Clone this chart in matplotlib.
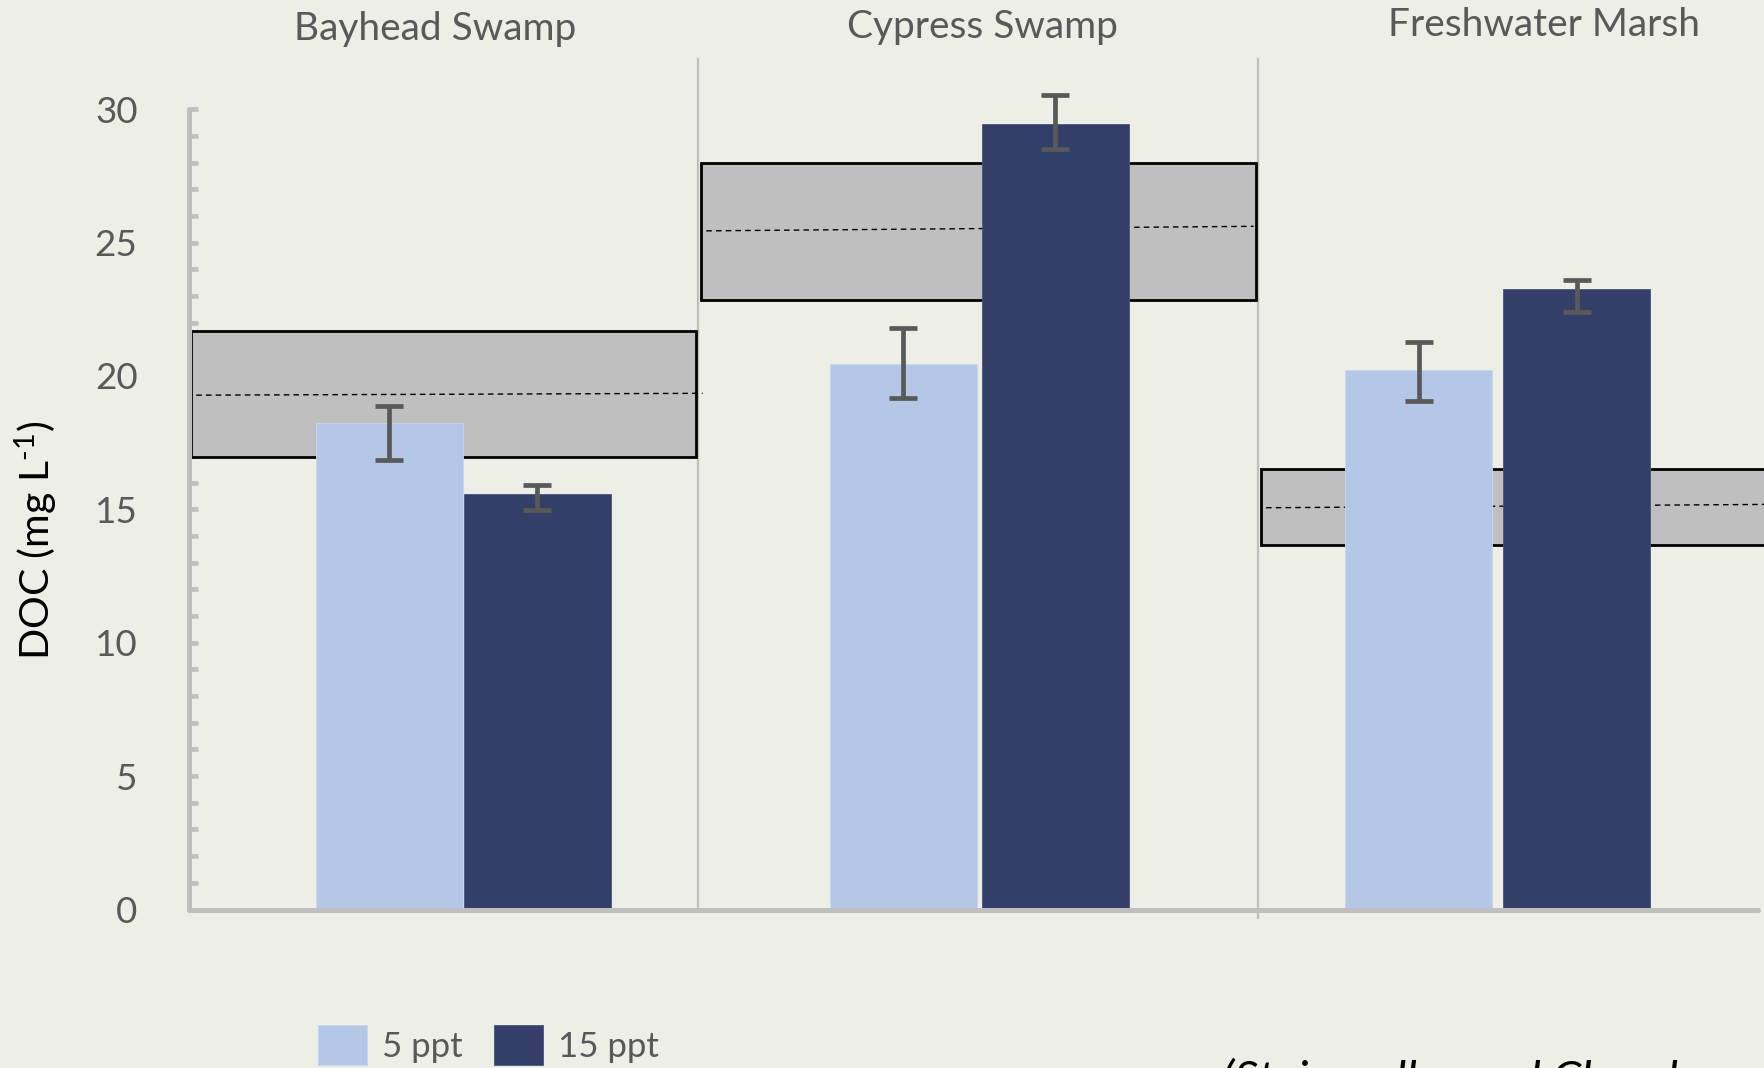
import matplotlib
matplotlib.use("Agg")
import matplotlib.pyplot as plt
from matplotlib.patches import Rectangle
from matplotlib.ticker import MultipleLocator
import matplotlib.transforms as mtransforms

# ---- data -------------------------------------------------------------
habitats = ["Bayhead Swamp", "Cypress Swamp", "Freshwater Marsh"]
series_labels = ["5 ppt", "15 ppt"]
doc_5ppt = [18.23, 20.46, 20.21]
doc_15ppt = [15.57, 29.45, 23.25]
err_5ppt_low = [1.39, 1.30, 1.14]
err_5ppt_high = [0.63, 1.35, 1.06]
err_15ppt_low = [0.59, 0.93, 0.84]
err_15ppt_high = [0.34, 1.10, 0.34]
# field range of DOC per habitat (shaded boxes) and field mean (dashed)
field_low = [16.96, 22.83, 13.67]
field_high = [21.69, 27.97, 16.50]
field_mean_start = [19.28, 25.44, 15.06]
field_mean_end = [19.35, 25.61, 15.19]
y_ticks = [0, 5, 10, 15, 20, 25, 30]
source_note = "(Steinmuller and Chambers, 2019)"

# ---- style ------------------------------------------------------------
BG = "#EDEEE6"
LIGHT = "#B4C7E7"
DARK = "#333F69"
BOXFILL = "#BFBFBF"
AXIS = "#BFBFBF"
TXT = "#595959"
ERR = "#595959"

plt.rcParams["font.family"] = ["Lato", "DejaVu Sans"]
plt.rcParams["mathtext.fontset"] = "custom"
plt.rcParams["mathtext.rm"] = "Lato"
plt.rcParams["mathtext.it"] = "Lato:italic"

W, H, DPI = 1765, 1068, 100
fig = plt.figure(figsize=(W / DPI, H / DPI), dpi=DPI, facecolor=BG)

x0_px, x1_px = 189, 1758
y0_px, y1_px = 909.5, 109.2
ax = fig.add_axes([x0_px / W, 1 - y0_px / H, (x1_px - x0_px) / W, (y0_px - y1_px) / H])
ax.set_facecolor(BG)
ax.set_xlim(-0.53, 2.50)
ax.set_ylim(0, 30)

xs = list(range(len(habitats)))
bw = 0.284
off = 0.143
shift_light = [0.0, -0.008, -0.012]   # small per-panel nudge of each series
shift_dark = [0.0, 0.0, 0.0065]

# category separators and the span each field box covers
edges = [-0.526, 0.453, 1.534, 2.56]
for sx, ybot in [(edges[1], 0), (edges[2], -0.3)]:
    ax.plot([sx, sx], [ybot, 31.9], color=AXIS, lw=1.6, clip_on=False, zorder=1)

for i in xs:
    left = edges[i] + (0.006 if i else 0.0)
    right = edges[i + 1] - 0.003
    ax.add_patch(Rectangle((left, field_low[i]), right - left, field_high[i] - field_low[i],
                           facecolor=BOXFILL, edgecolor="black", lw=2.0,
                           clip_on=False, zorder=2))
    ax.plot([left + 0.01, right + (0.012 if i == 0 else -0.005)],
            [field_mean_start[i], field_mean_end[i]],
            color="black", lw=1.0, ls=(0, (4, 3)), clip_on=False, zorder=2.5)

x_light = [x - off + s for x, s in zip(xs, shift_light)]
x_dark = [x + off + s for x, s in zip(xs, shift_dark)]
b1 = ax.bar(x_light, doc_5ppt, width=bw, color=LIGHT,
            edgecolor="#C9D6EE", lw=0.6, zorder=3, label=series_labels[0])
b2 = ax.bar(x_dark, doc_15ppt, width=bw, color=DARK,
            edgecolor="#4A5580", lw=0.6, zorder=3, label=series_labels[1])

for xp, vals, lo, hi in [(x_light, doc_5ppt, err_5ppt_low, err_5ppt_high),
                         (x_dark, doc_15ppt, err_15ppt_low, err_15ppt_high)]:
    eb = ax.errorbar(xp, vals, yerr=[lo, hi], fmt="none", ecolor=ERR,
                     elinewidth=3.4, capsize=10, capthick=3.4, zorder=4)
    for art in eb.lines[1] + eb.lines[2]:
        art.set_clip_on(False)

# axes styling
for s in ["top", "right"]:
    ax.spines[s].set_visible(False)
for s in ["left", "bottom"]:
    ax.spines[s].set_color(AXIS)
    ax.spines[s].set_linewidth(3.6)
    ax.spines[s].set_capstyle("round")
    ax.spines[s].set_zorder(5)
ax.set_xticks([])
ax.set_yticks(y_ticks)
ax.yaxis.set_minor_locator(MultipleLocator(1))
ax.tick_params(axis="y", which="both", direction="in", length=6.5, width=3.4,
               color=AXIS, labelsize=26.5, labelcolor=TXT, pad=37)
ax.set_ylabel(r"DOC (mg L$^{\text{-1}}$)", fontsize=29.5, color="black")
ax.yaxis.set_label_coords(-0.0824, 0.4617)

# habitat titles above each panel
title_x = [-0.054, 1.003, 2.087]
title_y = [29, 27, 24.5]
trans = mtransforms.blended_transform_factory(ax.transData, fig.transFigure)
for t, tx, ty in zip(habitats, title_x, title_y):
    ax.text(tx, 1 - ty / H, t, transform=trans, ha="center", va="center",
            fontsize=28, color=TXT, clip_on=False)

# legend at the bottom
fig.legend(handles=[b1, b2], labels=series_labels, loc="upper left",
           bbox_to_anchor=(318 / W, 1 - 1025 / H), ncol=2, frameon=False,
           fontsize=25, labelcolor=TXT, handlelength=1.4, handleheight=1.4,
           handletextpad=0.45, columnspacing=0.9, borderpad=0, borderaxespad=0)

fig.text(1222 / W, 1 - 1058 / H, source_note, ha="left", va="top",
         fontsize=34, style="italic", color="black")

fig.savefig("out.png", dpi=DPI, facecolor=BG)
